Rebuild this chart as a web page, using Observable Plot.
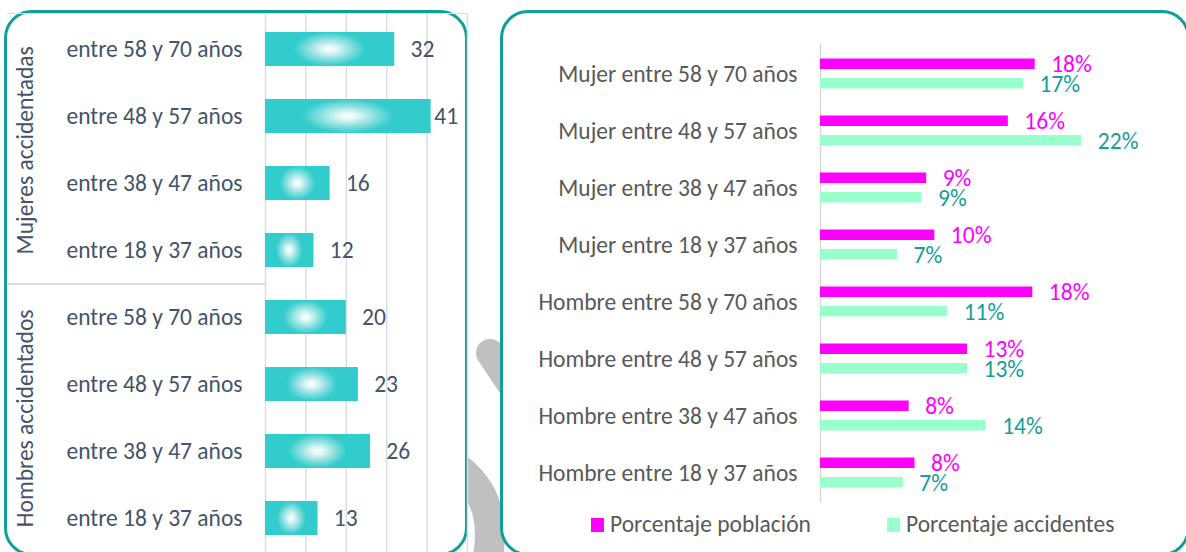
<!DOCTYPE html>
<html><head><meta charset="utf-8">
<script src="https://cdn.jsdelivr.net/npm/d3@7"></script>
<script src="https://cdn.jsdelivr.net/npm/@observablehq/plot@0.6"></script>
<style>
html,body{margin:0;padding:0;background:#fff;overflow:hidden;}
#root{position:relative;width:1186px;height:552px;overflow:hidden;font-family:Carlito,Lato,sans-serif;}
.layer{position:absolute;left:0;top:0;}
.panel{position:absolute;box-sizing:border-box;border:3px solid #0f9e99;border-radius:28px;background:#fff;}
.hline{position:absolute;height:1.5px;background:#d9dee6;}
.legend{position:absolute;display:flex;align-items:center;font-size:23.5px;color:#595959;line-height:1;}
.legend span.sw{display:inline-block;width:13px;height:14px;margin-right:6px;}
</style></head><body><div id="root"></div>
<script>
// ---------- data ----------
const leftGroups = ["Mujeres accidentadas", "Hombres accidentados"];
const ageRanges = ["entre 58 y 70 años", "entre 48 y 57 años", "entre 38 y 47 años", "entre 18 y 37 años"];
const accidentCounts = [32, 41, 16, 12, 20, 23, 26, 13];
const leftTicks = [0, 10, 20, 30, 40, 50];

const rightCategories = [
  "Mujer entre 58 y 70 años", "Mujer entre 48 y 57 años", "Mujer entre 38 y 47 años", "Mujer entre 18 y 37 años",
  "Hombre entre 58 y 70 años", "Hombre entre 48 y 57 años", "Hombre entre 38 y 47 años", "Hombre entre 18 y 37 años"
];
const seriesNames = ["Porcentaje población", "Porcentaje accidentes"];
const pctPoblacion = [18.4, 16.1, 9.1, 9.8, 18.2, 12.6, 7.6, 8.1];
const pctAccidentes = [17.4, 22.4, 8.7, 6.6, 10.9, 12.6, 14.2, 7.1];
const seriesColors = ["#ff00ff", "#99ffcc"];
const labelColors = ["#ff00ff", "#179e98"];

const FONT = "Carlito, Lato, sans-serif";
const FS = "23.5px";
const root = document.getElementById("root");

// ---------- background decoration ----------
const deco = d3.select(root).append("svg").attr("class", "layer").attr("width", 1186).attr("height", 552);
deco.append("path").attr("d", "M490,353 L532,416").attr("stroke", "#c0c0c0").attr("stroke-width", 28).attr("stroke-linecap", "round").attr("fill", "none");
deco.append("path").attr("d", "M448,462 C482,482 498,515 486,566").attr("stroke", "#c0c0c0").attr("stroke-width", 30).attr("fill", "none");

// ---------- panels ----------
function addDiv(cls, css) { const d = document.createElement("div"); d.className = cls; Object.assign(d.style, css); root.appendChild(d); return d; }
addDiv("panel", {left: "3.5px", top: "9.5px", width: "464px", height: "546px"});
addDiv("panel", {left: "499.5px", top: "9.5px", width: "690px", height: "546px"});
addDiv("hline", {left: "7px", top: "12.5px", width: "461px"});
addDiv("hline", {left: "8px", top: "283px", width: "257px"});

// ---------- left chart ----------
const leftRows = accidentCounts.map((v, i) => ({
  key: leftGroups[Math.floor(i / 4)] + "|" + ageRanges[i % 4],
  group: leftGroups[Math.floor(i / 4)],
  value: v
}));
const groupAnchor = leftGroups.map((g, gi) => ({group: g, key: leftRows[gi * 4 + 1].key}));

const leftPlot = Plot.plot({
  width: 1186, height: 556,
  marginLeft: 265, marginRight: 719, marginTop: 13, marginBottom: 2,
  style: {background: "transparent", fontFamily: FONT, fontSize: FS, color: "#44546a", overflow: "visible"},
  x: {domain: [0, 50], axis: null},
  y: {domain: leftRows.map(d => d.key), paddingInner: 0.5, paddingOuter: 0.25, axis: null},
  marks: [
    Plot.ruleX(leftTicks, {stroke: "#d9dee6", strokeWidth: 1.5}),
    Plot.axisY({tickSize: 0, tickPadding: 23, label: null, tickFormat: k => k.split("|")[1], fill: "#44546a"}),
    Plot.barX(leftRows, {x: "value", y: "key", fill: "url(#tealGlow)", ariaLabel: "glowbar"}),
    Plot.text(leftRows, {x: d => Math.min(d.value + 3.9, 41.8), y: "key", text: d => String(d.value), textAnchor: "start", fill: "#44546a"}),
    Plot.text(groupAnchor, {y: "key", text: "group", frameAnchor: "left", textAnchor: "middle", dx: -240, dy: 33.8, rotate: -90, fill: "#44546a"})
  ]
});
leftPlot.classList.add("layer");
const defs = d3.select(leftPlot).insert("defs", ":first-child");
const grad = defs.append("radialGradient").attr("id", "tealGlow")
  .attr("cx", 0.5).attr("cy", 0.5).attr("r", 0.5)
  .attr("gradientTransform", "translate(0.5,0.5) scale(1,1.8) translate(-0.5,-0.5)");
[[0, "#ffffff"], [0.12, "#def6f6"], [0.32, "#8fe0e0"], [0.55, "#33cccc"], [1, "#33cccc"]].forEach(([o, c]) =>
  grad.append("stop").attr("offset", o).attr("stop-color", c));
const filt = defs.append("filter").attr("id", "barShadow").attr("x", "-10%").attr("y", "-20%").attr("width", "130%").attr("height", "160%");
filt.append("feDropShadow").attr("dx", 2).attr("dy", 3).attr("stdDeviation", 1.6).attr("flood-color", "#000").attr("flood-opacity", 0.3);
d3.select(leftPlot).selectAll('g[aria-label="glowbar"] rect').attr("filter", "url(#barShadow)");
root.appendChild(leftPlot);

// ---------- right chart ----------
const pob = rightCategories.map((c, i) => ({cat: c, value: pctPoblacion[i]}));
const acc = rightCategories.map((c, i) => ({cat: c, value: pctAccidentes[i]}));
const pctText = d => Math.round(d.value) + "%";

const rightPlot = Plot.plot({
  width: 1186, height: 552,
  marginLeft: 820, marginRight: 16, marginTop: 43, marginBottom: 50,
  style: {background: "transparent", fontFamily: FONT, fontSize: FS, color: "#595959", overflow: "visible"},
  x: {domain: [0, 30], axis: null},
  y: {domain: rightCategories, padding: 0, axis: null},
  marks: [
    Plot.ruleX([0], {stroke: "#d9d9d9", strokeWidth: 1.5}),
    Plot.axisY({tickSize: 0, tickPadding: 23, label: null, fill: "#595959"}),
    Plot.barX(pob, {x: "value", y: "cat", fill: seriesColors[0], insetTop: 13.5, insetBottom: 33}),
    Plot.barX(acc, {x: "value", y: "cat", fill: seriesColors[1], insetTop: 33, insetBottom: 13.5}),
    Plot.text(pob, {x: "value", y: "cat", text: pctText, dx: 16, dy: -10, textAnchor: "start", fill: labelColors[0]}),
    Plot.text(acc, {x: "value", y: "cat", text: pctText, dx: 16, dy: 10, textAnchor: "start", fill: labelColors[1]})
  ]
});
rightPlot.classList.add("layer");
root.appendChild(rightPlot);

// ---------- legend ----------
const legendLeft = [591, 887];
seriesNames.forEach((name, i) => {
  const lg = addDiv("legend", {left: legendLeft[i] + "px", top: "514px", height: "22px"});
  const sw = document.createElement("span"); sw.className = "sw"; sw.style.background = seriesColors[i];
  const tx = document.createElement("span"); tx.textContent = name;
  lg.appendChild(sw); lg.appendChild(tx);
});
</script></body></html>
